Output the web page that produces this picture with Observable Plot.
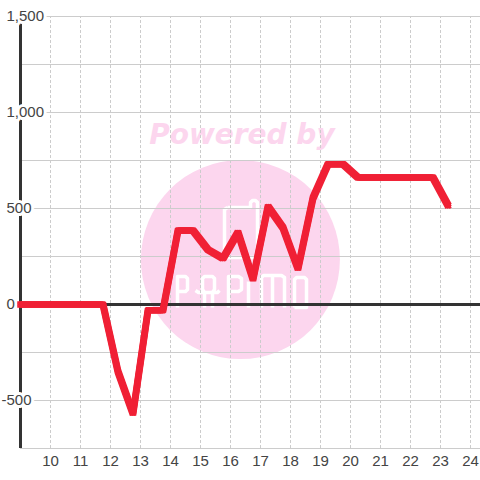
<!DOCTYPE html>
<html><head><meta charset="utf-8">
<script src="https://cdn.jsdelivr.net/npm/d3@7"></script>
<script src="https://cdn.jsdelivr.net/npm/@observablehq/plot@0.6"></script>
<style>html,body{margin:0;padding:0;background:#fff}svg{display:block}</style>
</head><body><div id="c"></div>
<script>
const hours = [9,11.75,12.25,12.75,13.25,13.75,14.25,14.75,15.25,15.75,16.25,16.75,17.25,17.75,18.25,18.75,19.25,19.75,20.25,20.75,21.25,21.75,22.25,22.75,23.25];
const values = [0,0,-350,-568,-30,-30,385,385,285,240,375,132,510,400,187,555,731,731,661,661,661,661,661,661,517];
const xTicks = [10,11,12,13,14,15,16,17,18,19,20,21,22,23,24];
const yGrid = [-750,-500,-250,0,250,500,750,1000,1250,1500];
const yLabels = [-500,0,500,1000,1500];
const fmt = d => d3.format(",")(d).replace("\u2212","-");
const series = hours.map((h,i)=>({h,v:values[i]}));

// Watermark outlines, given in picture pixels and converted to chart units
const toX = p => (p-20)/30+9;
const toY = p => (304-p)/96*500;
const logoBox = [[227,207],[250,207],[250,202],[252,200],[255,200],[257,202],[257,255],[255,257],[226,257],[224,255],[224,209],[227,207]];
const logoLetters = [
  [[177,307],[177,276],[185,276],[187,278],[187,289],[185,291],[177,291]],
  [[204,307],[204,292],[202,289],[202,278],[204,276],[212,276],[214,278],[214,289],[212,292],[212,307]],
  [[195,290],[198,292],[217,292],[219,290]],
  [[228,307],[228,276],[238,276],[241,278],[241,289],[238,291],[228,291]],
  [[248,307],[248,281]],
  [[261,307],[261,277],[263,275],[281,275],[284,277],[284,307]],
  [[272,307],[272,275]],
  [[294,307],[294,279],[296,277],[304,277],[306,279],[306,307],[294,307]]
];
const outlines = [logoBox,...logoLetters].flatMap((pts,k)=>pts.map(([a,b])=>({k,x:toX(a),y:toY(b)})));

// Square-pen look of the series line
const pen = [-2,0,2];
const penMarks = pen.flatMap(dx=>pen.map(dy=>Plot.line(series,{x:"h",y:"v",dx,dy,stroke:"#f02035",strokeWidth:2.5,strokeLinecap:"square",strokeLinejoin:"miter",curve:"linear"})));

const pink = "#fcd6ee";
const chart = Plot.plot({
  width:480,height:480,marginLeft:20,marginRight:0,marginTop:16,marginBottom:32,
  style:{fontFamily:"'Liberation Sans',Arial,sans-serif",background:"#fff",overflow:"visible"},
  x:{domain:[9,24.333],range:[20,480],axis:null},
  y:{domain:[-750,1500],range:[448,16],axis:null},
  marks:[
    Plot.dot([{x:16.33,y:234}],{x:"x",y:"y",r:99.5,fill:pink,stroke:null}),
    Plot.text(["Powered by"],{x:[16.38],y:[882],fill:pink,fontSize:28,fontWeight:"bold",fontStyle:"italic",fontFamily:"'DejaVu Sans',sans-serif",textAnchor:"middle"}),
    Plot.line(outlines,{x:"x",y:"y",z:"k",stroke:"#fff",strokeWidth:3.5,strokeLinejoin:"round",strokeLinecap:"butt",curve:"linear"}),
    Plot.ruleX(xTicks,{x:d=>d,y1:-750,y2:1500,stroke:"#ccc",strokeWidth:1,strokeDasharray:"3,2"}),
    Plot.ruleY(yGrid,{y:d=>d,x1:9,x2:24.333,stroke:"#ccc",strokeWidth:1}),
    Plot.ruleX([9],{y1:-750,y2:1500,stroke:"#333",strokeWidth:3}),
    Plot.ruleY([0],{x1:9,x2:24.333,stroke:"#333",strokeWidth:3}),
    Plot.text(yLabels,{x:9,y:d=>d,text:fmt,textAnchor:"start",fontSize:15,fill:"#444",stroke:"#fff",strokeWidth:6,strokeLinejoin:"round",paintOrder:"stroke",dx:-14,filter:d=>d>=0}),
    Plot.text(yLabels,{x:9,y:d=>d,text:fmt,textAnchor:"start",fontSize:15,fill:"#444",stroke:"#fff",strokeWidth:6,strokeLinejoin:"round",paintOrder:"stroke",dx:-19,filter:d=>d<0}),
    Plot.text(xTicks,{x:d=>d,y:-750,text:d=>String(d),dy:13,fontSize:15,fill:"#444"}),
    ...penMarks
  ]
});
document.getElementById("c").appendChild(chart);
</script></body></html>
